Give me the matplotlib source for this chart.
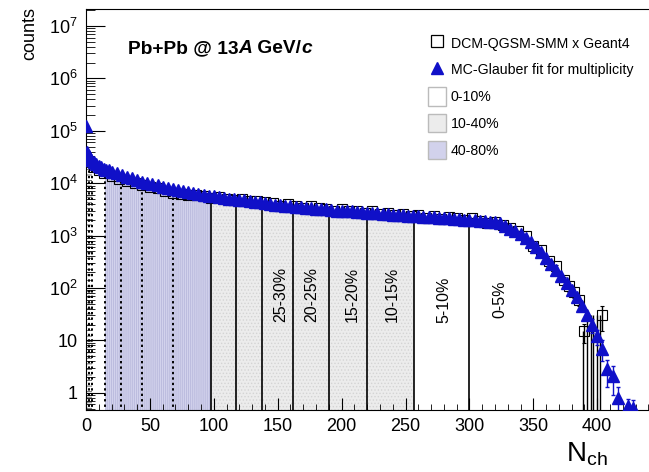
import numpy as np
import matplotlib
matplotlib.use('Agg')
import matplotlib.pyplot as plt
from matplotlib.patches import Patch
from matplotlib.lines import Line2D

plt.rcParams['font.family'] = ['Liberation Sans', 'DejaVu Sans']
plt.rcParams['mathtext.fontset'] = 'custom'
plt.rcParams['mathtext.rm'] = 'Liberation Sans'
plt.rcParams['mathtext.it'] = 'Liberation Sans:italic'
plt.rcParams['hatch.linewidth'] = 0.6

# MC-Glauber fit (blue triangles)
glauber_n = [0, 1, 2, 3, 4, 6, 8, 10, 12, 14, 16, 18,
             20, 24, 28, 32, 36, 40, 44, 48, 52, 56, 60, 64, 68, 72, 76, 80, 84, 88, 92, 96,
             100, 104, 108, 112, 116, 120, 124, 128, 132, 136, 140, 144, 148, 152, 156, 160,
             164, 168, 172, 176, 180, 184, 188, 192, 196,
             200, 204, 208, 212, 216, 220, 224, 228, 232, 236, 240, 244, 248, 252, 256, 260,
             264, 268, 272, 276, 280, 284, 288, 292, 296,
             300, 304, 308, 312, 316, 320, 324, 328, 332, 336, 340, 344, 348, 352, 356, 360,
             364, 368, 372, 376, 380, 384, 388, 392, 396,
             400, 404, 408, 412, 416, 424, 428]
glauber_val = [1.25e5, 4.0e4, 3.3e4, 3.0e4, 2.8e4, 2.5e4, 2.3e4, 2.15e4, 2.0e4, 1.9e4, 1.8e4, 1.75e4,
               1.65e4, 1.55e4, 1.45e4, 1.32e4, 1.23e4, 1.15e4, 1.07e4, 1.0e4, 9.5e3, 9.1e3, 8.5e3, 8.1e3,
               7.8e3, 7.4e3, 7.1e3, 6.8e3, 6.5e3, 6.2e3, 6.0e3, 5.75e3,
               5.6e3, 5.4e3, 5.25e3, 5.0e3, 4.9e3, 4.8e3, 4.7e3, 4.55e3, 4.45e3, 4.35e3, 4.15e3, 4.0e3,
               3.9e3, 3.8e3, 3.7e3, 3.65e3, 3.55e3, 3.45e3, 3.4e3, 3.3e3, 3.25e3, 3.15e3, 3.15e3, 3.1e3, 3.0e3,
               2.95e3, 2.95e3, 2.9e3, 2.8e3, 2.8e3, 2.75e3, 2.7e3, 2.65e3, 2.62e3, 2.57e3, 2.5e3, 2.5e3,
               2.45e3, 2.4e3, 2.4e3, 2.35e3, 2.3e3, 2.28e3, 2.24e3, 2.2e3, 2.15e3, 2.13e3, 2.1e3, 2.05e3, 2.0e3,
               1.98e3, 1.95e3, 1.9e3, 1.86e3, 1.82e3, 1.78e3, 1.7e3, 1.5e3, 1.35e3, 1.2e3, 1.05e3, 890,
               740, 600, 480, 380, 290, 224, 170, 126, 93, 66, 45, 30, 20,
               12, 7, 2.8, 2.1, 0.8, 0.55, 0.52]
glauber_tail_err = [6, 4, 3, 1.5, 1.2, 0.5, 0.2, 0.2]

# DCM-QGSM-SMM x Geant4 (open squares)
dcm_n = [2, 6, 10, 14, 20, 26, 32, 38, 44, 50, 56, 62, 68, 74, 80, 86, 92, 98,
         104, 110, 116, 122, 128, 134, 140, 146, 152, 158, 164, 170, 176, 182, 188, 194,
         200, 206, 212, 218, 224, 230, 236, 242, 248, 254, 260, 266, 272, 278, 284, 290, 296,
         302, 308, 314, 320, 326, 332, 338, 344, 350, 356, 362, 368, 374, 378, 382, 386, 390, 404]
dcm_val = [2.6e4, 2.0e4, 1.75e4, 1.55e4, 1.35e4, 1.2e4, 1.1e4, 1.0e4, 9.2e3, 8.6e3, 8.0e3, 7.2e3,
           6.6e3, 6.3e3, 6.0e3, 5.9e3, 5.6e3, 5.2e3,
           5.5e3, 4.9e3, 4.8e3, 5.0e3, 4.5e3, 4.6e3, 4.3e3, 4.1e3, 3.7e3, 4.0e3, 3.7e3, 3.4e3, 3.6e3,
           3.3e3, 3.2e3, 2.9e3,
           3.2e3, 3.0e3, 2.95e3, 2.7e3, 2.9e3, 2.6e3, 2.75e3, 2.5e3, 2.6e3, 2.35e3, 2.5e3, 2.2e3, 2.4e3,
           2.1e3, 2.25e3, 2.15e3, 2.0e3,
           2.2e3, 1.9e3, 1.75e3, 1.85e3, 1.6e3, 1.4e3, 1.2e3, 960, 640, 520, 330, 260, 140, 110, 85,
           60, 15, 30]
dcm_tail_err = [20, 25, 25, 20, 15, 6, 15]
dcm_drop_n = [389, 392, 395, 397, 400, 402]
dcm_drop_top = [15, 30, 30, 30, 30, 30]

# centrality class boundaries
solid_bounds = [98, 117, 138, 162, 190, 220, 257, 300]
dotted_bounds = [2, 5, 15, 27, 44, 68]
class_labels = ['25-30%', '20-25%', '15-20%', '10-15%', '5-10%', '0-5%']
class_label_x = [152, 177, 208, 240, 280, 324]
class_label_y = [75, 75, 75, 75, 60, 60]

yticks = [1, 10, 1e2, 1e3, 1e4, 1e5, 1e6, 1e7]
yticklabels = ['1', '10', '$10^{2}$', '$10^{3}$', '$10^{4}$', '$10^{5}$', '$10^{6}$', '$10^{7}$']

blue = '#1010c8'
lavender = '#d2d2ec'
lightgray = '#ececec'

fig = plt.figure(figsize=(6.49, 4.72), dpi=100)
ax = fig.add_axes([86/649, 62/472, 563/649, 401/472])
ax.set_yscale('log')
ax.set_xlim(0, 440.5)
ax.set_ylim(0.47, 2.1e7)

# region under the curve, used to clip the shading and boundary lines
under = ax.fill_between(glauber_n, 0.1, glauber_val, facecolor='none', edgecolor='none')
clip = under.get_paths()[0]

s1 = ax.axvspan(15, 98, facecolor=lavender, edgecolor='#b8b8dc', linewidth=0, hatch='||||||||', zorder=1)
s2 = ax.axvspan(98, 257, facecolor=lightgray, edgecolor='#d4d4d4', linewidth=0, hatch='.....', zorder=1)
s0 = ax.axvspan(0, 5, facecolor='white', edgecolor='#555555', linewidth=0, hatch='---', zorder=1)
for s in (s0, s1, s2):
    s.set_clip_path(clip, ax.transData)

vl = ax.vlines(solid_bounds, 0.1, 1e8, colors='k', linewidth=1.2, zorder=2)
vl.set_clip_path(clip, ax.transData)
vd = ax.vlines(dotted_bounds, 0.1, 1e8, colors='k', linewidth=1.4, linestyles=(0, (1.2, 1.6)), zorder=2)
vd.set_clip_path(clip, ax.transData)

for lab, x, y in zip(class_labels, class_label_x, class_label_y):
    ax.text(x, y, lab, rotation=90, ha='center', va='center', fontsize=11.5, zorder=5)

# DCM histogram
dcm_err = np.concatenate([np.zeros(len(dcm_n) - len(dcm_tail_err)), dcm_tail_err])
ax.vlines(dcm_drop_n, 0.1, dcm_drop_top, colors='k', linewidth=1.0, zorder=3)
ax.errorbar(dcm_n, dcm_val, yerr=dcm_err, fmt='s', ms=7, mfc='none', mec='k', mew=0.8,
            ecolor='k', elinewidth=1, capsize=1.5, zorder=3)

# Glauber fit
g_err = np.concatenate([np.zeros(len(glauber_n) - len(glauber_tail_err)), glauber_tail_err])
ax.errorbar(glauber_n, glauber_val, yerr=g_err, fmt='^', ms=8, color=blue, mec=blue,
            ecolor=blue, elinewidth=1, capsize=1.5, zorder=4)

ax.set_yticks(yticks)
ax.set_yticklabels(yticklabels)
ax.set_xticks(np.arange(0, 401, 50))
ax.set_xticks(np.arange(0, 441, 10), minor=True)
ax.tick_params(axis='both', which='both', direction='in', labelsize=13, pad=6)
ax.tick_params(axis='y', which='major', length=13.5, width=0.8)
ax.tick_params(axis='y', which='minor', length=6.5, width=0.6)
ax.tick_params(axis='x', which='major', length=8.5, width=0.8)
ax.tick_params(axis='x', which='minor', length=4.3, width=0.6)
ax.spines['right'].set_visible(False)

ax.set_ylabel('counts', fontsize=13, loc='top')
ax.yaxis.set_label_coords(-0.085, 1.005)

fig.text(566/649, 1 - 462/472, r'$\mathregular{N_{ch}}$', fontsize=20)

t1 = fig.text(128/649, 1 - 53/472, 'Pb+Pb @ 13', fontsize=13.8, fontweight='bold')
t2 = ax.annotate('A', xy=(1, 0), xycoords=t1, va='bottom', fontsize=13.8, fontweight='bold', style='italic')
t3 = ax.annotate(' GeV/', xy=(1, 0), xycoords=t2, va='bottom', fontsize=13.8, fontweight='bold')
t4 = ax.annotate('c', xy=(1, 0), xycoords=t3, va='bottom', fontsize=13.8, fontweight='bold', style='italic')

handles = [Line2D([], [], marker='s', ls='none', mfc='none', mec='k', ms=8, mew=0.9),
           Line2D([], [], marker='^', ls='none', color=blue, ms=8),
           Patch(facecolor='white', edgecolor='#bbbbbb'),
           Patch(facecolor=lightgray, edgecolor='#bbbbbb'),
           Patch(facecolor=lavender, edgecolor='#bbbbbb')]
labels = ['DCM-QGSM-SMM x Geant4', 'MC-Glauber fit for multiplicity', '0-10%', '10-40%', '40-80%']
ax.legend(handles, labels, loc='upper left', bbox_to_anchor=(428/649, 1 - 34/472),
          bbox_transform=fig.transFigure, frameon=False, fontsize=10.2, handlelength=1.3,
          handleheight=1.6, handletextpad=0.3, labelspacing=0.6, borderpad=0, borderaxespad=0)

fig.savefig('out.png', dpi=100)
